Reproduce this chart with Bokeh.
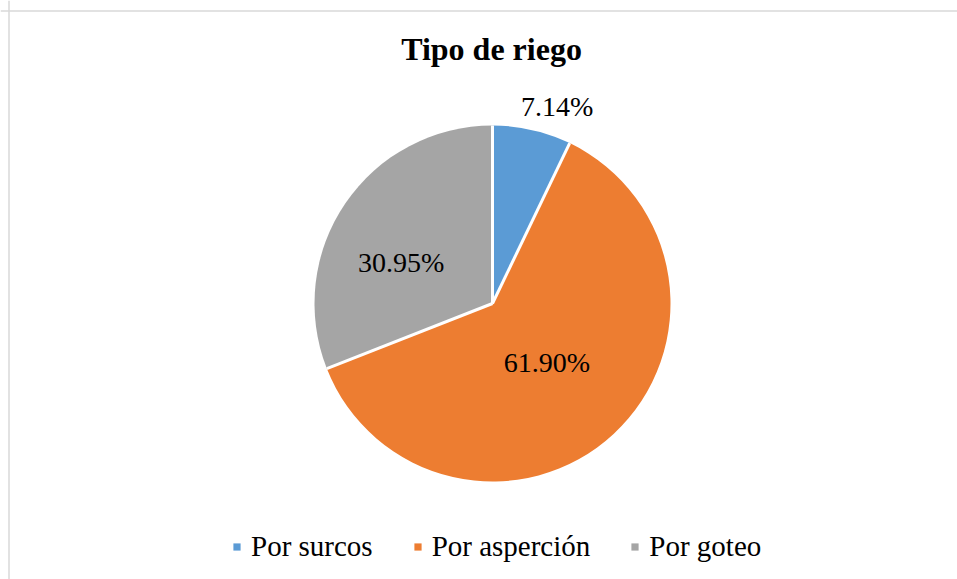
import numpy as np
from bokeh.plotting import figure
from bokeh.models import Range1d, ColumnDataSource, Legend, LegendItem, Span
from bokeh.core.properties import value
from bokeh.embed import file_html
from bokeh.resources import INLINE

# ---- data ----
title_text = "Tipo de riego"
categories = ["Por surcos", "Por asperción", "Por goteo"]
percentages = [7.14, 61.90, 30.95]
colors = ["#5B9BD5", "#ED7D31", "#A5A5A5"]

# ---- style ----
W, H = 957, 579
FONT = "Liberation Serif"
cx, cy, R = 492, 276, 178
label_r = [1.13, 0.45, 0.56]
label_dx = [20, 0, -9]
label_dy = [-1, 0, 15]

vals = np.array(percentages, dtype=float)
frac = vals / vals.sum()
cum = np.concatenate([[0.0], np.cumsum(frac)])
start = np.pi / 2 - 2 * np.pi * cum[:-1]
end = np.pi / 2 - 2 * np.pi * cum[1:]
mid = (start + end) / 2

src = ColumnDataSource(dict(
    cat=categories, val=percentages, color=colors,
    start=start, end=end,
))

p = figure(width=W, height=H, output_backend="svg", toolbar_location=None,
           x_range=Range1d(0, W), y_range=Range1d(0, H), min_border=0,
           tools="")
p.axis.visible = False
p.grid.visible = False
p.outline_line_color = None
p.background_fill_color = "white"
p.border_fill_color = "white"

wr = p.wedge(x=cx, y=cy, radius=R, start_angle="start", end_angle="end",
             direction="clock", fill_color="color", line_color=None, source=src)

# white separators at slice boundaries
b_ang = start
p.segment(x0=[cx] * len(b_ang), y0=[cy] * len(b_ang),
          x1=list(cx + R * np.cos(b_ang)), y1=list(cy + R * np.sin(b_ang)),
          line_color="white", line_width=3)

# percentage labels
lx = cx + R * np.array(label_r) * np.cos(mid)
ly = cy + R * np.array(label_r) * np.sin(mid)
lab_src = ColumnDataSource(dict(x=lx, y=ly, t=[f"{v:.2f}%" for v in percentages],
                                dx=label_dx, dy=label_dy))
p.text(x="x", y="y", text="t", x_offset="dx", y_offset="dy", source=lab_src,
       text_font=value(FONT), text_font_size="28px", text_color="#000000",
       text_align="center", text_baseline="middle")

# title
p.text(x=[491], y=[H - 48], text=[title_text], text_font=value(FONT),
       text_font_size="32px", text_font_style="bold", text_color="#000000",
       text_align="center", text_baseline="alphabetic")

# border (left and top visible)
p.add_layout(Span(location=8.5, dimension="height", line_color="#d9d9d9", line_width=1.5))
p.add_layout(Span(location=H - 10.5, dimension="width", line_color="#d9d9d9", line_width=1.5))

legend = Legend(items=[LegendItem(label=c, renderers=[wr], index=i) for i, c in enumerate(categories)],
                orientation="horizontal", location=(232, 16),
                glyph_width=9, glyph_height=9, label_standoff=10, spacing=40,
                padding=0, margin=0, border_line_color=None, background_fill_alpha=0,
                label_text_font=FONT, label_text_font_size="29px", label_text_color="#000000")
p.add_layout(legend)

open("out.html", "w").write(file_html(p, INLINE))
